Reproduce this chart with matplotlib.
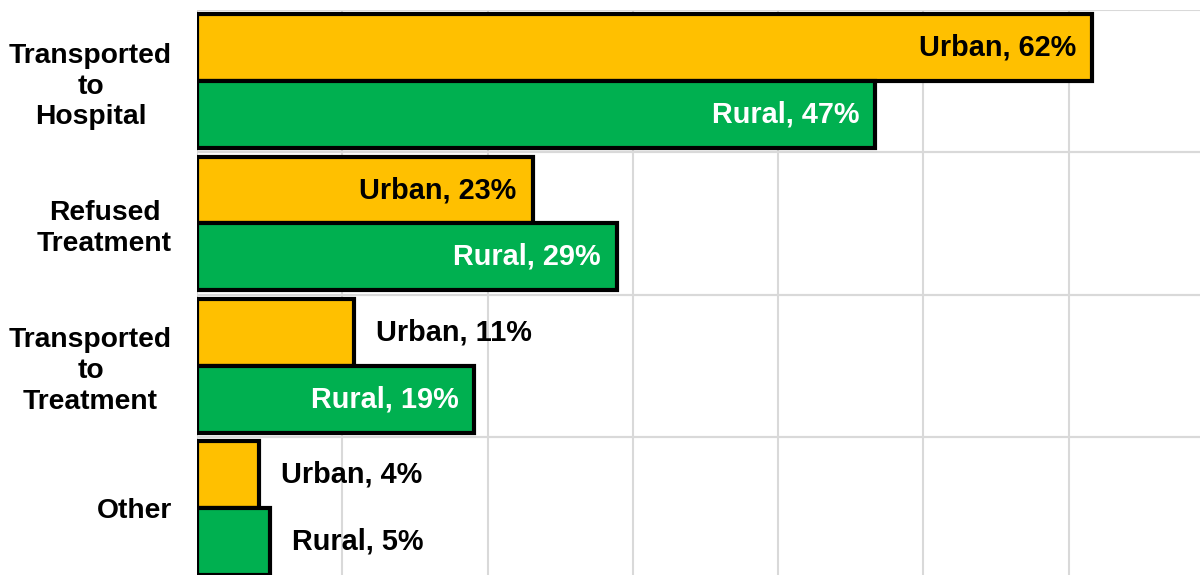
import matplotlib.pyplot as plt
import numpy as np

plt.rcParams['font.family'] = ['Liberation Sans', 'DejaVu Sans']

categories = ['Transported\nto\nHospital', 'Refused\nTreatment', 'Transported\nto\nTreatment', 'Other']
urban = [61.6, 23.1, 10.8, 4.3]
rural = [46.7, 28.9, 19.1, 5.0]
urban_color = '#FFC000'
rural_color = '#00B050'

fig = plt.figure(figsize=(12, 5.75), dpi=100)
ax = fig.add_axes([197/1200, -0.0073, 1017/1200, 0.9899])

pos = np.arange(len(categories))
h = 0.47
ax.barh(pos - h/2, urban, height=h, color=urban_color, edgecolor='black', linewidth=3, zorder=2)
ax.barh(pos + h/2, rural, height=h, color=rural_color, edgecolor='black', linewidth=3, zorder=3)

# labels: inside the bar when there is room, else just outside
for i in range(len(categories)):
    for val, name, off, col in [(urban[i], 'Urban', -h/2, 'black'), (rural[i], 'Rural', h/2, 'white')]:
        txt = name + ', ' + f'{val:.0f}%'
        if val > 15:
            ax.annotate(txt, (val, i + off), xytext=(-16, 0), textcoords='offset pixels',
                        ha='right', va='center', fontsize=20.8, fontweight='bold', color=col, zorder=5)
        else:
            ax.annotate(txt, (val, i + off), xytext=(22, 0), textcoords='offset pixels',
                        ha='left', va='center', fontsize=20.8, fontweight='bold', color='black', zorder=5)

ax.set_xlim(0, 70)
ax.set_ylim(3.5, -0.5)
ax.set_xticks(np.arange(0, 71, 10))
ax.set_xticklabels([])
ax.set_yticks(pos)
ax.set_yticklabels(categories, fontsize=20.3, fontweight='bold', multialignment='center', linespacing=1.24)
ax.set_yticks(list(pos - 0.5) + list(pos + 0.5), minor=True)
ax.tick_params(axis='both', which='both', length=0)
ax.tick_params(axis='y', pad=18)
ax.grid(axis='x', which='major', color='#D9D9D9', linewidth=1.5)
ax.grid(axis='y', which='minor', color='#D9D9D9', linewidth=1.5)
ax.set_axisbelow(True)
for s in ax.spines.values():
    s.set_visible(False)

plt.savefig('out.png', dpi=100)
